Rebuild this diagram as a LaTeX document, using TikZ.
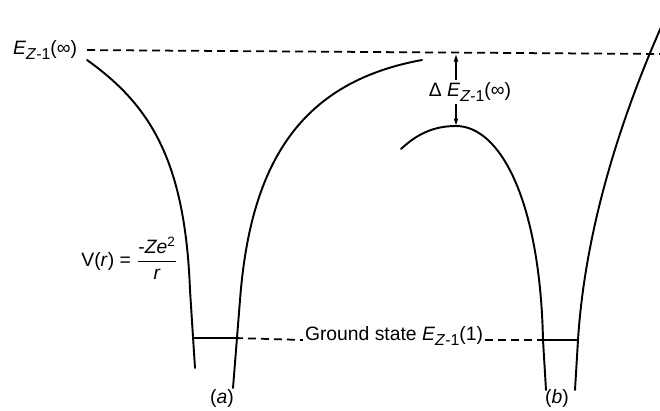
\documentclass[tikz,border=0pt]{standalone}
\usepackage{fontspec}
\setmainfont{Liberation Sans}
\usetikzlibrary{arrows.meta,positioning}
\newcommand{\Ezm}{\textit{E}\raisebox{-0.55ex}{\fontsize{9}{10}\selectfont\textit{Z}-1}}

\begin{document}
\begin{tikzpicture}[
  x=0.2mm, y=-0.2mm,
  font=\fontsize{11}{13}\selectfont,
  curve/.style={line width=1.1pt,line cap=round},
  level/.style={line width=1pt,dash pattern=on 1.6mm off 1mm},
  lbl/.style={inner sep=1pt},
  gaparr/.style={-{Latex[length=1.5mm,width=1mm]},line width=0.7pt}
]
\useasboundingbox (0,0) rectangle (660,410);
% labels
\node[lbl,anchor=west] (einf) at (11,50) {\Ezm(∞)};
\node[lbl] (dlabel) at (470,92) {Δ \Ezm(∞)};
\node[lbl,anchor=east] (vr) at (180,258) {V(\textit{r}) = $\displaystyle\frac{\mbox{-\textit{Ze}\textsuperscript{2}}}{\mbox{\textit{r}}}$};
\node[lbl,anchor=base] (ground) at (394,340) {Ground state \Ezm(1)};
\node[lbl] (la) at (222,398) {(\textit{a})};
\node[lbl] (lb) at (557,398) {(\textit{b})};
% fixed points
\coordinate (topend) at (662,54);
\coordinate (peak) at (456,126);
\coordinate (gaptop) at (456,54);
\coordinate (a1) at (193,338);
\coordinate (a2) at (235,338);
\coordinate (b1) at (543,340);
\coordinate (b2) at (578,340);
% dashed levels
\draw[level,shorten <=1.6mm] (einf.east) -- (topend);
\draw[level] (a2) -- (ground.base west);
\draw[level] (ground.base east) -- (b1);
% well (a)
\draw[curve] (87,60) .. controls (150,105) and (185,160) .. (190,290) -- (195,368);
\draw[curve] (233,388) -- (240,300) .. controls (250,170) and (295,83) .. (422,60);
% well (b)
\draw[curve] (401,149) .. controls (418,133) and (435,126) .. (peak)
  .. controls (500,126) and (540,200) .. (b1) -- (546,390);
\draw[curve] (575,390) -- (b2) .. controls (585,230) and (620,120) .. (662,25);
% ground levels
\draw[curve] (a1) -- (a2);
\draw[curve] (b1) -- (b2);
% gap arrows
\draw[gaparr] (dlabel.north -| peak) -- (gaptop);
\draw[gaparr] (dlabel.south -| peak) -- (peak);
\end{tikzpicture}
\end{document}
